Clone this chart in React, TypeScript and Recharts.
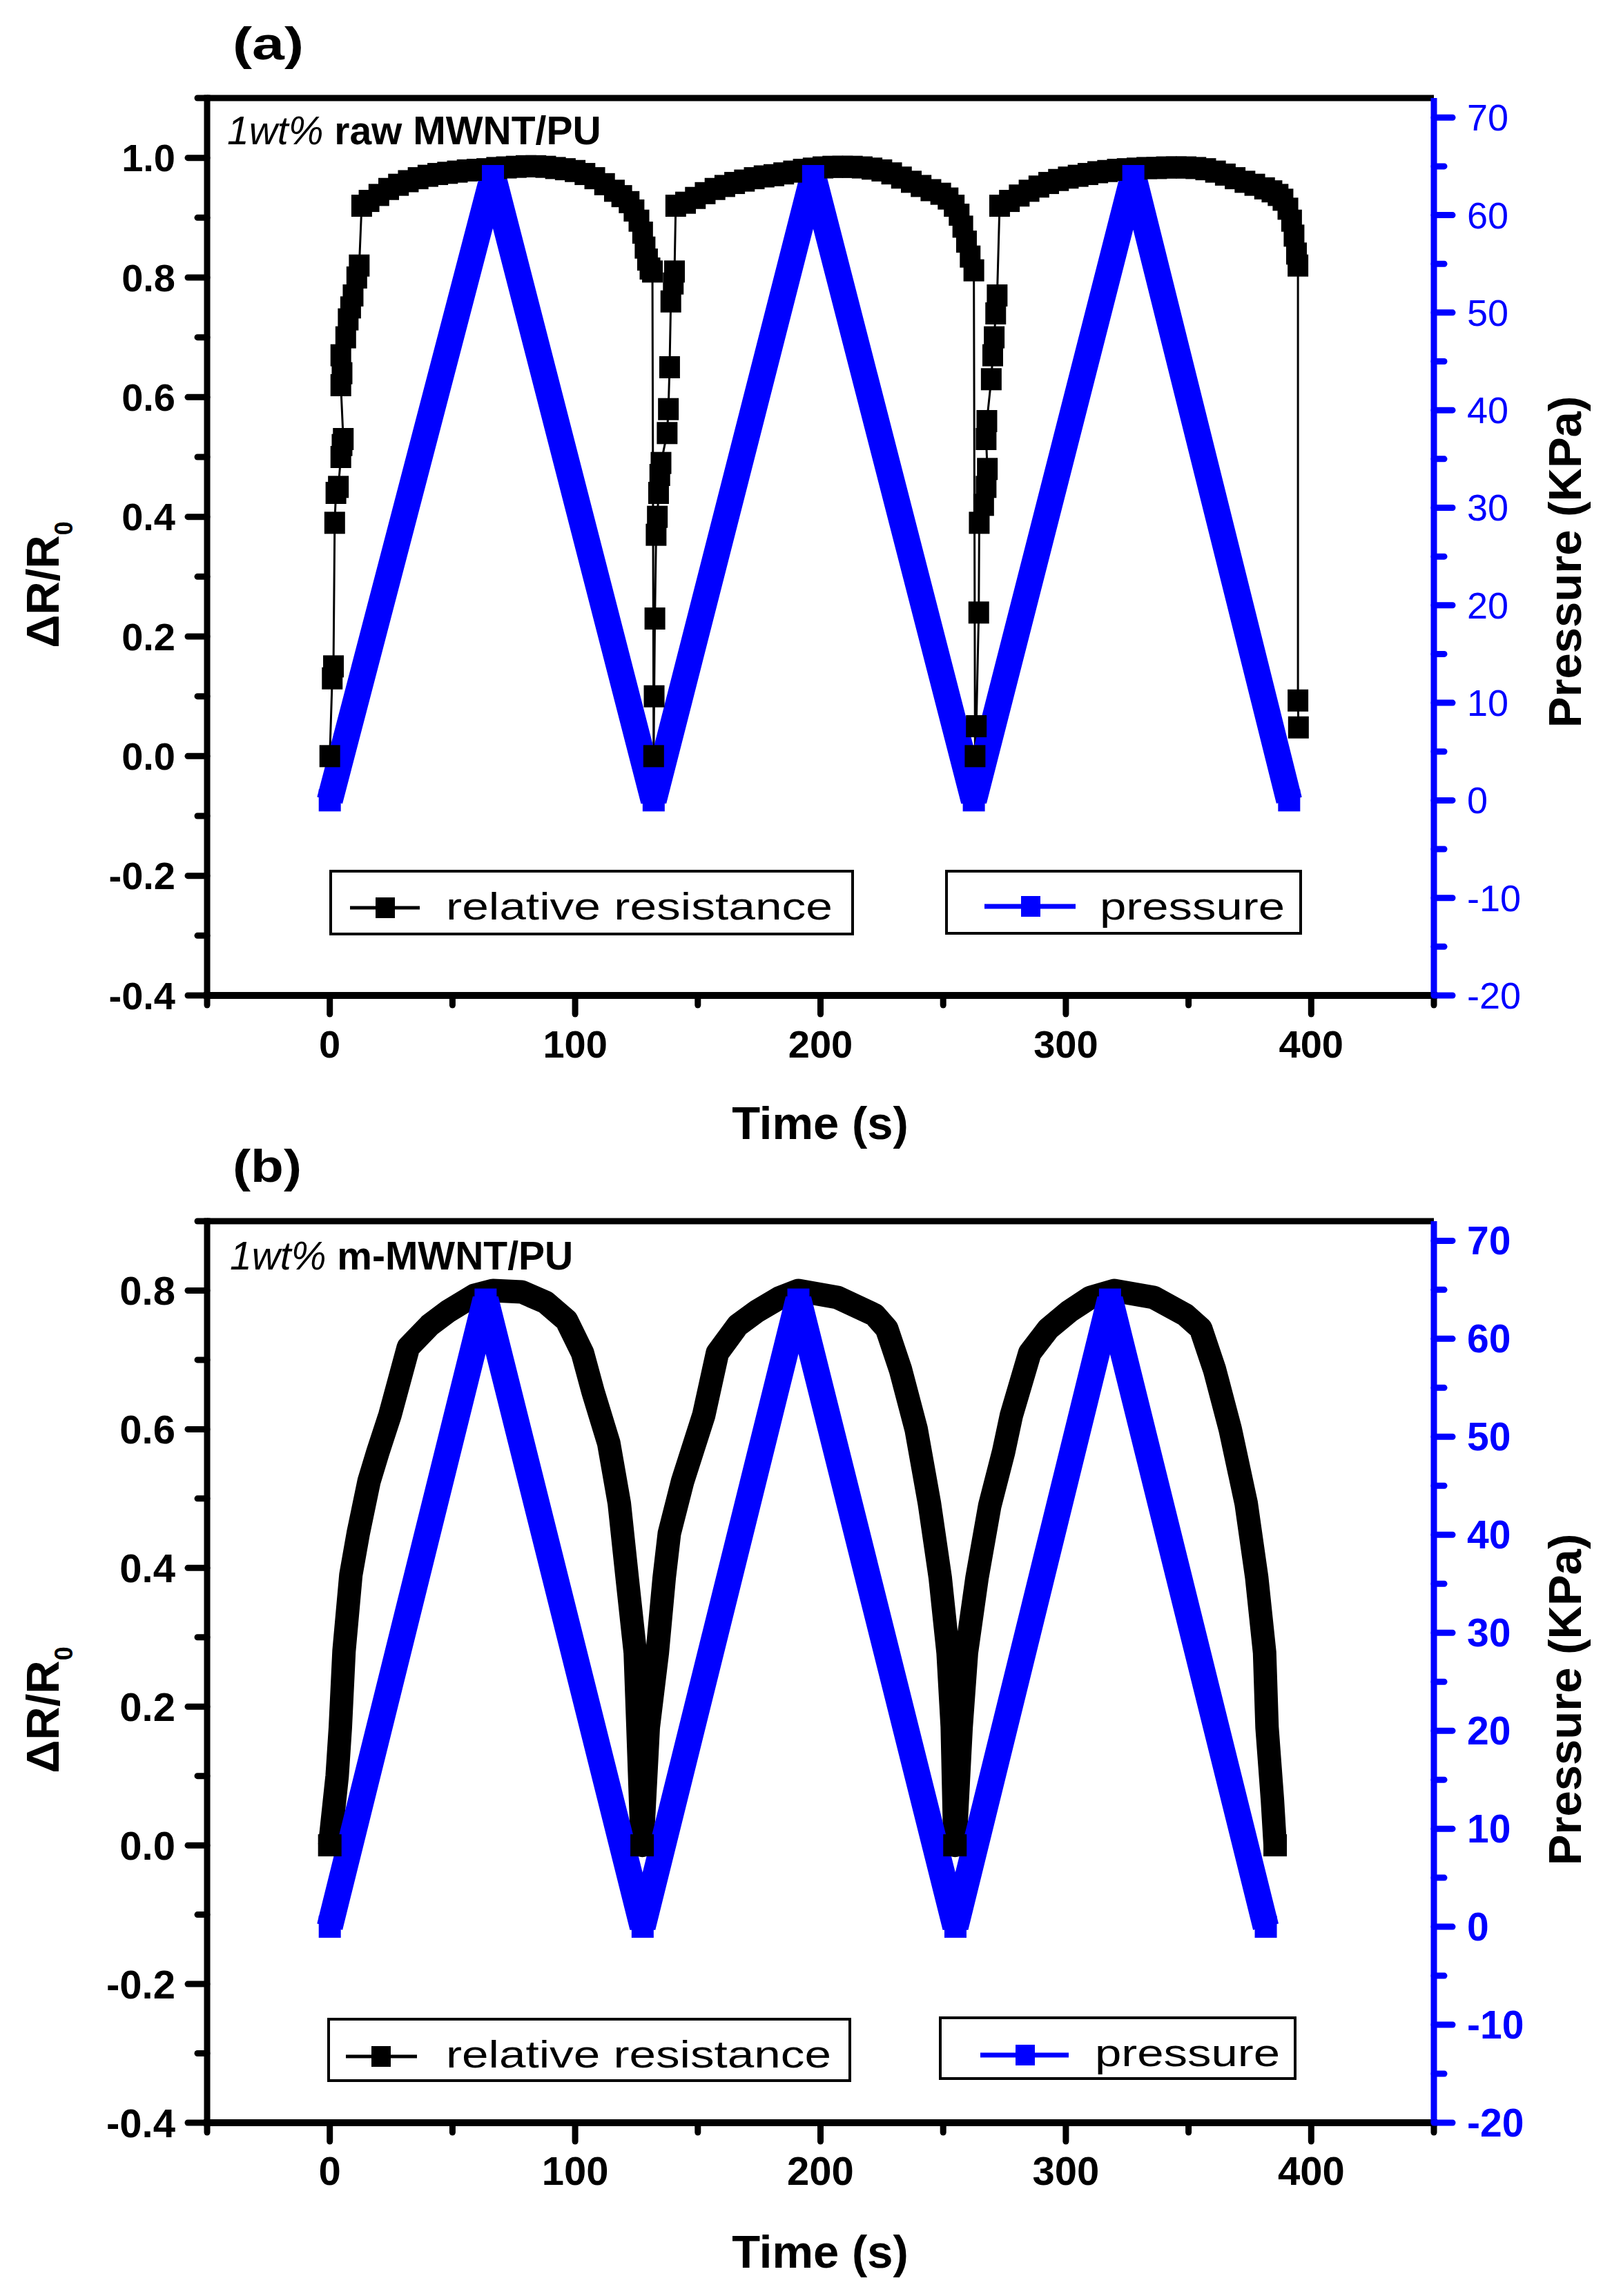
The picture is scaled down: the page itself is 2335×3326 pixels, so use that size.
import React from 'react';
import { ComposedChart, Line, XAxis, YAxis, ReferenceLine } from 'recharts';

const FONT = "'Liberation Sans', Arial, Helvetica, sans-serif";
const BLUE = '#0000ff';
const W = 2335;
const H = 3326;
const PLOT_LEFT = 300;
const PLOT_RIGHT = 2077;
const XH = 60;
const YW = 60;

// ---- axes ----
const TIME_DOMAIN = [-50, 450];
const TIME_MAJOR = [0, 100, 200, 300, 400];
const TIME_MINOR = [-50, 50, 150, 250, 350, 450];

const A_R_DOMAIN = [-0.4, 1.1];
const A_R_MAJOR = [-0.4, -0.2, 0, 0.2, 0.4, 0.6, 0.8, 1.0];
const A_R_MINOR = [-0.3, -0.1, 0.1, 0.3, 0.5, 0.7, 0.9, 1.1];

const B_R_DOMAIN = [-0.4, 0.9];
const B_R_MAJOR = [-0.4, -0.2, 0, 0.2, 0.4, 0.6, 0.8];
const B_R_MINOR = [-0.3, -0.1, 0.1, 0.3, 0.5, 0.7, 0.9];

const P_DOMAIN = [-20, 72];
const P_MAJOR = [-20, -10, 0, 10, 20, 30, 40, 50, 60, 70];
const P_MINOR = [-15, -5, 5, 15, 25, 35, 45, 55, 65];

// ---- data: [time (s), value] ----
const A_PRESSURE: [number, number][] = [
  [0, 0], [66.5, 64], [132, 0], [197, 64], [262.5, 0], [327.5, 64], [391, 0],
];

const A_RESISTANCE: [number, number][] = [
  [0, 0.0], [1, 0.13], [1.5, 0.15], [2, 0.39], [2.5, 0.44], [3.5, 0.45], [4.5, 0.5], [5, 0.52], [5.5, 0.53],
  [4.5, 0.62], [5, 0.64], [4.5, 0.67], [6.5, 0.7], [7.5, 0.73], [8.5, 0.75], [9.5, 0.77], [11, 0.8], [12, 0.82],
  [13, 0.92], [16, 0.928], [20, 0.938], [24, 0.948], [28, 0.955], [32, 0.961], [36, 0.966], [40, 0.97],
  [44, 0.973], [48, 0.975], [52, 0.977], [56, 0.979], [60, 0.98], [64, 0.981], [68, 0.983], [72, 0.984],
  [76, 0.985], [80, 0.986], [84, 0.986], [88, 0.985], [92, 0.983], [96, 0.981], [100, 0.978], [104, 0.973],
  [108, 0.966], [112, 0.956], [116, 0.945], [119, 0.936], [122, 0.926], [124, 0.912], [126, 0.895],
  [127.5, 0.875], [128.5, 0.85], [129.5, 0.83], [130.5, 0.815], [131.5, 0.81],
  [132, 0.0], [132.2, 0.1], [132.5, 0.23], [133, 0.37], [133.5, 0.4], [134, 0.44], [134.5, 0.47], [135, 0.49],
  [137.5, 0.54], [138, 0.58], [138.5, 0.65], [139, 0.76], [140, 0.79], [140.5, 0.81], [141, 0.92],
  [145, 0.925], [149, 0.933], [153, 0.941], [157, 0.948], [161, 0.953], [165, 0.958], [169, 0.962],
  [173, 0.966], [177, 0.969], [181, 0.971], [185, 0.974], [189, 0.977], [193, 0.98], [197, 0.982],
  [201, 0.984], [205, 0.985], [209, 0.985], [213, 0.985], [217, 0.984], [221, 0.982], [225, 0.979],
  [229, 0.974], [233, 0.967], [237, 0.96], [241, 0.953], [245, 0.946], [249, 0.94], [252, 0.932],
  [254.5, 0.92], [256.5, 0.905], [258, 0.885], [259.5, 0.86], [261, 0.835], [262.5, 0.812],
  [263, 0.0], [263.5, 0.05], [264.5, 0.24], [264.7, 0.39], [266.5, 0.42], [267.5, 0.45], [268, 0.48],
  [267.5, 0.53], [267.8, 0.56], [269.6, 0.63], [270.2, 0.67], [270.8, 0.7], [271.4, 0.74], [272, 0.77],
  [273, 0.92], [277, 0.928], [281, 0.937], [285, 0.945], [289, 0.952], [293, 0.958], [297, 0.963],
  [301, 0.967], [305, 0.97], [309, 0.973], [313, 0.976], [317, 0.978], [321, 0.98], [325, 0.981],
  [329, 0.982], [333, 0.983], [337, 0.983], [341, 0.984], [345, 0.984], [349, 0.984], [353, 0.983],
  [357, 0.981], [361, 0.977], [365, 0.972], [369, 0.966], [373, 0.96], [377, 0.955], [381, 0.949],
  [384, 0.944], [386.5, 0.938], [388.5, 0.93], [390.5, 0.915], [392, 0.895], [393, 0.87], [394, 0.84],
  [394.6, 0.82], [394.6, 0.093], [394.8, 0.048],
];

const B_PRESSURE: [number, number][] = [
  [0, 0], [63.5, 64], [127.5, 0], [191, 64], [255, 0], [318, 64], [381.5, 0],
];

const B_RESISTANCE: [number, number][] = [
  [0, 0.0], [3, 0.1], [4.3, 0.17], [5.8, 0.28], [8.6, 0.39], [11.6, 0.45], [16, 0.525], [19.6, 0.567],
  [24.5, 0.62], [32, 0.718], [40.7, 0.75], [48.2, 0.77], [58.9, 0.793], [66.5, 0.8], [78.3, 0.798],
  [88, 0.783], [96.5, 0.757], [103, 0.71], [107.3, 0.654], [113.7, 0.58], [118, 0.493], [121.2, 0.386],
  [124.5, 0.278], [125.6, 0.171], [127.3, 0.0],
  [129.8, 0.17], [133.5, 0.278], [136.3, 0.386], [138.4, 0.45], [143.8, 0.525], [152.4, 0.62], [158, 0.71],
  [166.3, 0.75], [174, 0.77], [183.6, 0.79], [191, 0.8], [206.9, 0.79], [222, 0.765], [227, 0.745],
  [232.6, 0.686], [239, 0.6], [244.4, 0.493], [248.8, 0.386], [252, 0.278], [253.7, 0.171], [254.8, 0.0],
  [257.3, 0.17], [259.5, 0.278], [263.8, 0.386], [269, 0.49], [274.6, 0.567], [277.8, 0.62], [285.3, 0.71],
  [292.9, 0.745], [301.4, 0.77], [310, 0.79], [319.7, 0.8], [335.8, 0.79], [348.7, 0.765], [355, 0.745],
  [360.6, 0.686], [367, 0.6], [373.5, 0.493], [377.8, 0.386], [381, 0.278], [382, 0.17], [384.2, 0.065],
  [385.3, 0.0],
];

const toRows = (pairs: [number, number][]) => pairs.map(([t, v]) => ({ t, v }));

const isIn = (list: number[], v: number) => list.some((m) => Math.abs(m - v) < 1e-9);

function squareDot(w: number, h: number, fill: string, onlyZero = false) {
  return (props: any) => {
    const { cx, cy, index, payload } = props;
    if (typeof cx !== 'number' || typeof cy !== 'number') return <g key={`e${index}`} />;
    if (onlyZero && payload && payload.v !== 0) return <g key={`e${index}`} />;
    return <rect key={`s${index}`} x={cx - w / 2} y={cy - h / 2} width={w} height={h} fill={fill} />;
  };
}

function leftTick(majors: number[], fontSize: number) {
  return (props: any) => {
    const { x, y, payload } = props;
    const v = payload.value as number;
    const major = isIn(majors, v);
    return (
      <g>
        <line x1={x} x2={x - (major ? 28 : 14)} y1={y} y2={y} stroke="#000" strokeWidth={9} strokeLinecap="round" />
        {major && (
          <text x={x - 46} y={y} textAnchor="end" dominantBaseline="central" fontFamily={FONT}
            fontWeight="bold" fontSize={fontSize} fill="#000">{v.toFixed(1)}</text>
        )}
      </g>
    );
  };
}

function rightTick(majors: number[], fontSize: number, bold: boolean) {
  return (props: any) => {
    const { x, y, payload } = props;
    const v = payload.value as number;
    const major = isIn(majors, v);
    return (
      <g>
        <line x1={x} x2={x + (major ? 27 : 15)} y1={y} y2={y} stroke={BLUE} strokeWidth={9} strokeLinecap="round" />
        {major && (
          <text x={x + 48} y={y} textAnchor="start" dominantBaseline="central" fontFamily={FONT}
            fontWeight={bold ? 'bold' : 'normal'} fontSize={fontSize} fill={BLUE}>{String(v)}</text>
        )}
      </g>
    );
  };
}

function bottomTick(majors: number[], fontSize: number) {
  return (props: any) => {
    const { x, y, payload } = props;
    const v = payload.value as number;
    const major = isIn(majors, v);
    return (
      <g>
        <line x1={x} x2={x} y1={y} y2={y + (major ? 27 : 14)} stroke="#000" strokeWidth={9} strokeLinecap="round" />
        {major && (
          <text x={x} y={y + 90} textAnchor="middle" fontFamily={FONT} fontWeight="bold"
            fontSize={fontSize} fill="#000">{String(v)}</text>
        )}
      </g>
    );
  };
}

type PanelProps = {
  chartTop: number;
  chartH: number;
  plotTop: number;
  plotBottom: number;
  rDomain: number[];
  rMajor: number[];
  rMinor: number[];
  res: [number, number][];
  pres: [number, number][];
  thickRes: boolean;
  tickFont: number;
  rightFont: number;
  rightBold: boolean;
};

function Panel(p: PanelProps) {
  const rTicks = [...p.rMajor, ...p.rMinor].sort((a, b) => a - b);
  const pTicks = [...P_MAJOR, ...P_MINOR].sort((a, b) => a - b);
  const tTicks = [...TIME_MAJOR, ...TIME_MINOR].sort((a, b) => a - b);
  const margin = {
    top: p.plotTop - p.chartTop,
    bottom: p.chartTop + p.chartH - p.plotBottom - XH,
    left: PLOT_LEFT - YW,
    right: W - PLOT_RIGHT - YW,
  };
  return (
    <div style={{ position: 'absolute', left: 0, top: p.chartTop, width: W, height: p.chartH }}>
      <ComposedChart width={W} height={p.chartH} margin={margin}>
        <XAxis type="number" dataKey="t" domain={TIME_DOMAIN} ticks={tTicks} interval={0}
          tickLine={false} tickSize={0} tickMargin={0} height={XH}
          axisLine={{ stroke: '#000', strokeWidth: 10, strokeLinecap: 'square' } as any}
          tick={bottomTick(TIME_MAJOR, p.tickFont)} />
        <YAxis yAxisId="r" type="number" domain={p.rDomain} ticks={rTicks} interval={0}
          tickLine={false} tickSize={0} tickMargin={0} width={YW}
          axisLine={{ stroke: '#000', strokeWidth: 9, strokeLinecap: 'square' } as any}
          tick={leftTick(p.rMajor, p.tickFont)} />
        <YAxis yAxisId="p" orientation="right" type="number" domain={P_DOMAIN} ticks={pTicks} interval={0}
          tickLine={false} tickSize={0} tickMargin={0} width={YW}
          axisLine={{ stroke: BLUE, strokeWidth: 9 }}
          tick={rightTick(P_MAJOR, p.rightFont, p.rightBold)} />
        <ReferenceLine yAxisId="r" y={p.rDomain[1]} stroke="#000" strokeWidth={9} />
        {p.thickRes ? (
          <Line yAxisId="r" data={toRows(p.res)} dataKey="v" type="linear" stroke="#000"
            strokeWidth={34} strokeLinejoin="round"
            dot={squareDot(34, 32, '#000', true)} activeDot={false} isAnimationActive={false} legendType="none" />
        ) : (
          <Line yAxisId="r" data={toRows(p.res)} dataKey="v" type="linear" stroke="#000"
            strokeWidth={3} strokeLinejoin="round"
            dot={squareDot(30, 32, '#000')} activeDot={false} isAnimationActive={false} legendType="none" />
        )}
        <Line yAxisId="p" data={toRows(p.pres)} dataKey="v" type="linear" stroke={BLUE}
          strokeWidth={38} strokeLinejoin="bevel"
          dot={squareDot(32, 32, BLUE)} activeDot={false} isAnimationActive={false} legendType="none" />
      </ComposedChart>
    </div>
  );
}

function LegendBox(props: { x: number; y: number; w: number; h: number; lx1: number; lx2: number; ly: number;
  mx: number; color: string; lineW: number; label: string; tx: number; ty: number; tlen: number }) {
  const { x, y, w, h, lx1, lx2, ly, mx, color, lineW, label, tx, ty, tlen } = props;
  return (
    <g>
      <rect x={x} y={y} width={w} height={h} fill="#fff" stroke="#000" strokeWidth={4} />
      <line x1={lx1} x2={lx2} y1={ly} y2={ly} stroke={color} strokeWidth={lineW} />
      <rect x={mx - 14} y={ly - 15} width={28} height={30} fill={color} />
      <text x={tx} y={ty} fontFamily={FONT} fontSize={56} fill="#000" textLength={tlen}
        lengthAdjust="spacingAndGlyphs">{label}</text>
    </g>
  );
}

function Overlay() {
  const boldLabel = { fontFamily: FONT, fontWeight: 'bold' as const, fontSize: 67, fill: '#000' };
  return (
    <svg width={W} height={H} style={{ position: 'absolute', left: 0, top: 0, pointerEvents: 'none' }}>
      {/* panel (a) */}
      <text x={337} y={86} fontFamily={FONT} fontWeight="bold" fontSize={66} textLength={103}
        lengthAdjust="spacingAndGlyphs">(a)</text>
      <text x={329} y={209} fontFamily={FONT} fontSize={57} fill="#000">
        <tspan fontStyle="italic">1wt%</tspan>
        <tspan fontWeight="bold"> raw MWNT/PU</tspan>
      </text>
      <text transform="translate(85,847) rotate(-90)" textAnchor="middle" {...boldLabel}>
        ΔR/R<tspan fontSize={36} dy={20}>0</tspan>
      </text>
      <text transform="translate(2290,814) rotate(-90)" textAnchor="middle" {...boldLabel}>Pressure (KPa)</text>
      <text x={1188} y={1650} textAnchor="middle" {...boldLabel}>Time (s)</text>
      <LegendBox x={479} y={1262} w={756} h={91} lx1={507} lx2={608} ly={1315} mx={558} color="#000" lineW={5}
        label="relative resistance" tx={646} ty={1332} tlen={560} />
      <LegendBox x={1371} y={1262} w={513} h={90} lx1={1426} lx2={1558} ly={1313} mx={1493} color={BLUE} lineW={7}
        label="pressure" tx={1593} ty={1332} tlen={268} />

      {/* panel (b) */}
      <text x={337} y={1712} fontFamily={FONT} fontWeight="bold" fontSize={66} textLength={100}
        lengthAdjust="spacingAndGlyphs">(b)</text>
      <text x={333} y={1839} fontFamily={FONT} fontSize={57} fill="#000">
        <tspan fontStyle="italic">1wt%</tspan>
        <tspan fontWeight="bold"> m-MWNT/PU</tspan>
      </text>
      <text transform="translate(85,2477) rotate(-90)" textAnchor="middle" {...boldLabel}>
        ΔR/R<tspan fontSize={36} dy={20}>0</tspan>
      </text>
      <text transform="translate(2290,2462) rotate(-90)" textAnchor="middle" {...boldLabel}>Pressure (KPa)</text>
      <text x={1188} y={3285} textAnchor="middle" {...boldLabel}>Time (s)</text>
      <LegendBox x={476} y={2925} w={755} h={89} lx1={501} lx2={604} ly={2979} mx={552} color="#000" lineW={5}
        label="relative resistance" tx={646} ty={2995} tlen={558} />
      <LegendBox x={1362} y={2923} w={514} h={88} lx1={1420} lx2={1548} ly={2977} mx={1485} color={BLUE} lineW={7}
        label="pressure" tx={1586} ty={2993} tlen={268} />
    </svg>
  );
}

export default function App() {
  return (
    <div style={{ position: 'absolute', left: 0, top: 0, width: W, height: H, background: '#fff', overflow: 'hidden' }}>
      <Panel chartTop={0} chartH={1627} plotTop={142} plotBottom={1442}
        rDomain={A_R_DOMAIN} rMajor={A_R_MAJOR} rMinor={A_R_MINOR}
        res={A_RESISTANCE} pres={A_PRESSURE} thickRes={false} tickFont={56} rightFont={54} rightBold={false} />
      <Panel chartTop={1627} chartH={1699} plotTop={1769} plotBottom={3075}
        rDomain={B_R_DOMAIN} rMajor={B_R_MAJOR} rMinor={B_R_MINOR}
        res={B_RESISTANCE} pres={B_PRESSURE} thickRes={true} tickFont={58} rightFont={57} rightBold={true} />
      <Overlay />
    </div>
  );
}
